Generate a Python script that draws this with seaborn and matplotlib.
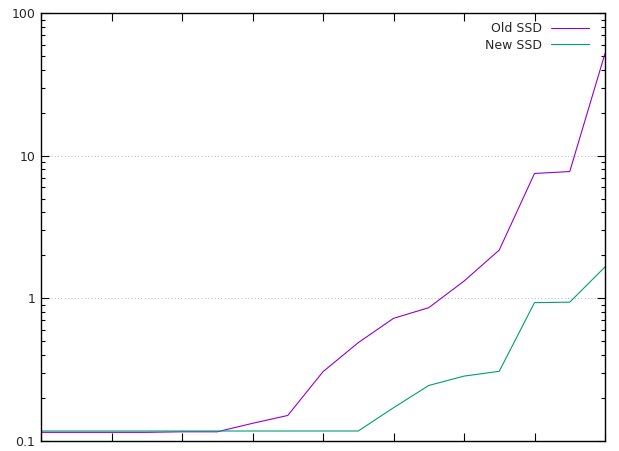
import numpy as np
import pandas as pd
import seaborn as sns
import matplotlib.pyplot as plt
from matplotlib.ticker import FixedLocator, LogLocator, NullFormatter, NullLocator

# values (log y axis)
steps = list(range(17))
old_ssd = [0.115, 0.115, 0.115, 0.115, 0.116, 0.116, 0.133, 0.151, 0.306,
           0.489, 0.724, 0.86, 1.32, 2.18, 7.5, 7.74, 52.0]
new_ssd = [0.1175, 0.1175, 0.1175, 0.1175, 0.1175, 0.1175, 0.1175, 0.1175,
           0.1175, 0.1175, 0.171, 0.245, 0.285, 0.308, 0.933, 0.94, 1.66]
series_names = ["Old SSD", "New SSD"]
y_ticks = [0.1, 1, 10, 100]
y_tick_labels = ["0.1", "1", "10", "100"]

df = pd.DataFrame({
    "step": steps * 2,
    "value": old_ssd + new_ssd,
    "drive": [series_names[0]] * len(steps) + [series_names[1]] * len(steps),
})

sns.set_style("white")
plt.rcParams['font.family'] = ['DejaVu Sans']

fig = plt.figure(figsize=(6.19, 4.51), dpi=100)
ax = fig.add_axes([41 / 619, 10 / 451, 564 / 619, 428 / 451])

sns.lineplot(data=df, x="step", y="value", hue="drive",
             palette={"Old SSD": "#9400d3", "New SSD": "#009e73"},
             linewidth=0.8, ax=ax, legend=True)

ax.set_yscale("log")
ax.set_xlim(0, 16)
ax.set_ylim(0.1, 100)
ax.set_xlabel("")
ax.set_ylabel("")

ax.xaxis.set_major_locator(FixedLocator(range(0, 17, 2)))
ax.xaxis.set_minor_locator(NullLocator())
ax.set_xticklabels([])
ax.yaxis.set_major_locator(FixedLocator(y_ticks))
ax.set_yticklabels(y_tick_labels)
ax.yaxis.set_minor_locator(LogLocator(base=10, subs=np.arange(2, 10)))
ax.yaxis.set_minor_formatter(NullFormatter())

ax.tick_params(which="both", direction="in", top=True, right=True,
               bottom=True, left=True, color="black", width=0.8)
ax.tick_params(which="major", length=6, labelsize=9, pad=4)
ax.tick_params(which="minor", length=3)

for s in ax.spines.values():
    s.set_color("black")
    s.set_linewidth(1.0)

ax.grid(True, axis="y", which="major", color="#a0a0a0", linestyle=(0, (1, 3)), linewidth=0.6)
ax.grid(False, axis="x")

leg = ax.legend(loc="upper right", bbox_to_anchor=(1 - 11 / 564, 1 - 4 / 428),
                frameon=False, fontsize=9, markerfirst=False, borderaxespad=0,
                handlelength=3.05, handletextpad=0.7, labelspacing=0.3)
for h in leg.legend_handles:
    h.set_linewidth(0.8)

fig.savefig("out.png", dpi=100)
